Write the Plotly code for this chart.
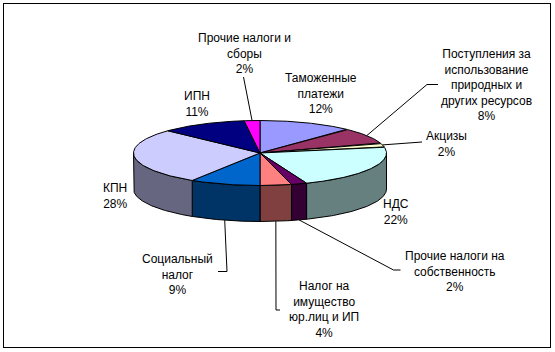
import numpy as np
import plotly.graph_objects as go

# ---- data ----
categories = ["Таможенные платежи",
              "Поступления за использование природных и других ресурсов",
              "Акцизы", "НДС", "Прочие налоги на собственность",
              "Налог на имущество юр.лиц и ИП", "Социальный налог",
              "КПН", "ИПН", "Прочие налоги и сборы"]
values = [12, 8, 2, 22, 2, 4, 9, 28, 11, 2]
label_names = ["Таможенные<br>платежи",
               "Поступления за<br>использование<br>природных и<br>других ресурсов",
               "Акцизы", "НДС", "Прочие налоги на<br>собственность",
               "Налог на<br>имущество<br>юр.лиц и ИП", "Социальный<br>налог",
               "КПН", "ИПН", "Прочие налоги и<br>сборы"]
top_colors = ["#9999FF", "#993366", "#FFFFCC", "#CCFFFF", "#660066",
              "#FF8080", "#0066CC", "#CCCCFF", "#000080", "#FF00FF"]
side_colors = ["#4D4D80", "#4D1A33", "#808066", "#668080", "#330033",
               "#804040", "#003366", "#666680", "#000040", "#800080"]

# ---- layout (page pixel coordinates) ----
CX, CY, RX, RY, DEPTH = 260.0, 153.0, 126.5, 32.5, 36.0
label_pos = [(321, 93.5), (486, 85), (446, 144), (396, 212), (455, 271.5),
             (324, 309.5), (177, 274.5), (115, 196), (197, 103.5), (244, 53)]
leader_via = [None, [(427, 84.5), (438, 84.5)], [(422, 142)], None,
              [(393.5, 270), (400.5, 270)], [(276, 310), (280, 310)],
              [(227, 271.5), (218, 271.5)], None, None, [(243.5, 77)]]


def ell(theta, dy=0.0):
    return CX + RX * np.sin(theta), CY - RY * np.cos(theta) + dy


fig = go.Figure()
total = float(sum(values))
frac = np.array(values) / total
starts = np.concatenate([[0], np.cumsum(frac)[:-1]]) * 2 * np.pi
ends = np.cumsum(frac) * 2 * np.pi

# side faces (front half only)
for i in range(len(values)):
    a0, a1 = max(starts[i], np.pi / 2), min(ends[i], 3 * np.pi / 2)
    if a1 <= a0:
        continue
    t = np.linspace(a0, a1, 80)
    xt, yt = ell(t)
    xb, yb = ell(t[::-1], DEPTH)
    fig.add_trace(go.Scatter(x=np.concatenate([xt, xb, xt[:1]]),
                             y=np.concatenate([yt, yb, yt[:1]]),
                             mode="lines", fill="toself",
                             fillcolor=side_colors[i],
                             line=dict(color="black", width=1),
                             hoverinfo="skip", showlegend=False))

# top faces
for i in range(len(values)):
    t = np.linspace(starts[i], ends[i], 120)
    xt, yt = ell(t)
    fig.add_trace(go.Scatter(x=np.concatenate([[CX], xt, [CX]]),
                             y=np.concatenate([[CY], yt, [CY]]),
                             mode="lines", fill="toself",
                             fillcolor=top_colors[i],
                             line=dict(color="black", width=1),
                             hoverinfo="skip", showlegend=False,
                             name=categories[i]))

# leader lines
for i in range(len(values)):
    if leader_via[i] is None:
        continue
    mid = (starts[i] + ends[i]) / 2
    front = np.pi / 2 < mid < 3 * np.pi / 2
    x0, y0 = ell(mid, DEPTH if front else 0.0)
    xs = [x0] + [p[0] for p in leader_via[i]]
    ys = [y0] + [p[1] for p in leader_via[i]]
    fig.add_trace(go.Scatter(x=xs, y=ys, mode="lines",
                             line=dict(color="black", width=1),
                             hoverinfo="skip", showlegend=False))

# labels
for i in range(len(values)):
    fig.add_annotation(x=label_pos[i][0], y=label_pos[i][1], xref="x", yref="y",
                       text=f"{label_names[i]}<br>{values[i]}%",
                       showarrow=False, align="center",
                       font=dict(family="Arial, Liberation Sans, sans-serif",
                                 size=12, color="black"))

axis_common = dict(showgrid=False, zeroline=False, showticklabels=False,
                   ticks="", showline=True, mirror=True, linecolor="black",
                   linewidth=1, fixedrange=True)
fig.update_layout(
    width=555, height=352,
    margin=dict(l=4, r=5, t=4, b=5),
    paper_bgcolor="white", plot_bgcolor="white",
    xaxis=dict(range=[4, 550], **axis_common),
    yaxis=dict(range=[347, 4], **axis_common),
    showlegend=False,
)
fig.write_html("out.html", config={"displayModeBar": False},
               post_script="document.body.style.margin='0px';"
                           "document.body.style.overflow='hidden';")
